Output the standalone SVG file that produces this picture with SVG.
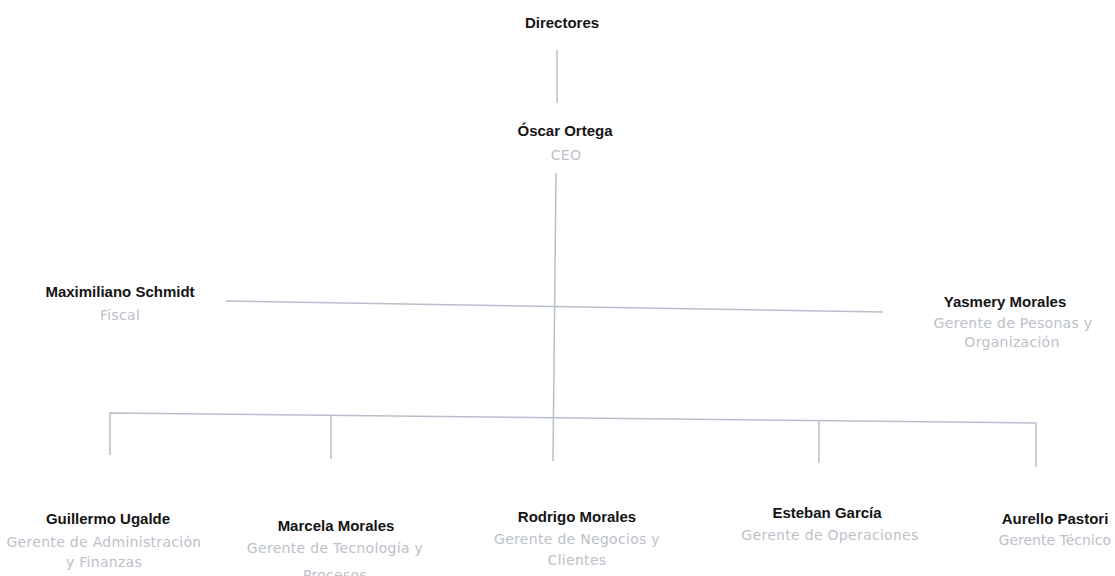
<svg xmlns="http://www.w3.org/2000/svg" width="1115" height="576" viewBox="0 0 1115 576">
<style>
.bg{fill:#ffffff}
.name{font-family:"Liberation Sans",Arial,sans-serif;font-weight:bold;font-size:15px;fill:#141414;text-anchor:middle}
.role{font-family:"DejaVu Sans",sans-serif;font-size:14px;letter-spacing:0.3px;fill:#bcc1ca;text-anchor:middle}
.ln{stroke:#b7bfcd;stroke-width:1.5;fill:none}
</style>
<rect class="bg" x="0" y="0" width="1115" height="576"/>
<g id="connectors">
<line class="ln" x1="557" y1="50" x2="557" y2="103"/>
<line class="ln" x1="556" y1="173" x2="553" y2="461"/>
<line class="ln" x1="226" y1="301" x2="883" y2="312"/>
<polyline class="ln" points="110,455 110,413 1036,423 1036,467"/>
<line class="ln" x1="331" y1="415" x2="331" y2="459"/>
<line class="ln" x1="819" y1="421" x2="819" y2="463"/>
</g>
<g id="directores">
<text class="name" x="562" y="28">Directores</text>
</g>
<g id="oscar-ortega">
<text class="name" x="565" y="136">Óscar Ortega</text>
<text class="role" x="566" y="160">CEO</text>
</g>
<g id="maximiliano-schmidt">
<text class="name" x="120" y="297">Maximiliano Schmidt</text>
<text class="role" x="120" y="320">Fiscal</text>
</g>
<g id="yasmery-morales">
<text class="name" x="1005" y="307">Yasmery Morales</text>
<text class="role" x="1013" y="328">Gerente de Pesonas y</text>
<text class="role" x="1012" y="347">Organización</text>
</g>
<g id="guillermo-ugalde">
<text class="name" x="108" y="524">Guillermo Ugalde</text>
<text class="role" x="104" y="547">Gerente de Administración</text>
<text class="role" x="104" y="567">y Finanzas</text>
</g>
<g id="marcela-morales">
<text class="name" x="336" y="531">Marcela Morales</text>
<text class="role" x="335" y="553">Gerente de Tecnología y</text>
<text class="role" x="335" y="580">Procesos</text>
</g>
<g id="rodrigo-morales">
<text class="name" x="577" y="522">Rodrigo Morales</text>
<text class="role" x="577" y="544">Gerente de Negocios y</text>
<text class="role" x="577" y="565">Clientes</text>
</g>
<g id="esteban-garcia">
<text class="name" x="827" y="518">Esteban García</text>
<text class="role" x="830" y="540">Gerente de Operaciones</text>
</g>
<g id="aurello-pastori">
<text class="name" x="1055" y="524">Aurello Pastori</text>
<text class="role" x="1111" y="545" style="text-anchor:end;letter-spacing:0">Gerente Técnico</text>
</g>
</svg>
